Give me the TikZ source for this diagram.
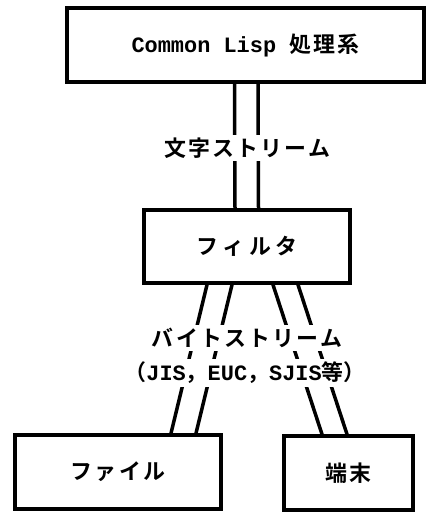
\documentclass[tikz,border=0pt]{standalone}
\usepackage{fontspec}
\usetikzlibrary{calc}
\newfontfamily\jp[LetterSpace=10,BoldFont={Noto Sans CJK JP Bold}]{Noto Sans CJK JP}
\newfontfamily\lat{Liberation Mono}
\tikzset{
  box/.style={draw, line width=3.5bp, rectangle, inner sep=0pt, font=\fontsize{22}{22}\selectfont\jp\bfseries},
  link/.style={line width=3.5bp},
  lbl/.style={fill=white, inner xsep=1bp, inner ysep=3bp, font=\fontsize{22}{22}\selectfont\jp\bfseries}
}
\begin{document}
\begin{tikzpicture}[x=1bp,y=-1bp]
\useasboundingbox (0,0) rectangle (426,512);
\node[box, minimum width=357bp, minimum height=74bp] (lisp) at (245.5,45) {{\lat\bfseries Common Lisp\ }処理系};
\node[box, minimum width=206bp, minimum height=73bp] (filter) at (247,246.5) {\addfontfeature{LetterSpace=22}フィルタ};
\node[box, minimum width=206bp, minimum height=74bp] (file) at (118,472) {ファイル};
\node[box, minimum width=129bp, minimum height=74bp] (term) at (348.5,473) {端末};
% character stream
\draw[link] ($(lisp.south)+(-11,0)$) -- ($(filter.north)+(-12,0)$);
\draw[link] ($(lisp.south)+(12.5,0)$) -- ($(filter.north)+(11.5,0)$);
% byte streams
\draw[link] ($(filter.south)+(-40,0)$) -- ($(file.north)+(53,0)$);
\draw[link] ($(filter.south)+(-15,0)$) -- ($(file.north)+(78,0)$);
\draw[link] ($(filter.south)+(26,0)$) -- ($(term.north)+(-26.5,0)$);
\draw[link] ($(filter.south)+(51,0)$) -- ($(term.north)+(-1.5,0)$);
\node[lbl] (cs) at (247,148) {文字ストリーム};
\node[lbl] (bs) at (247,338) {バイトストリーム};
\node[lbl] (enc) at (245,373) {\addfontfeature{LetterSpace=0}（{\lat\bfseries JIS}，{\lat\bfseries EUC}，{\lat\bfseries SJIS}等）};
\end{tikzpicture}
\end{document}
